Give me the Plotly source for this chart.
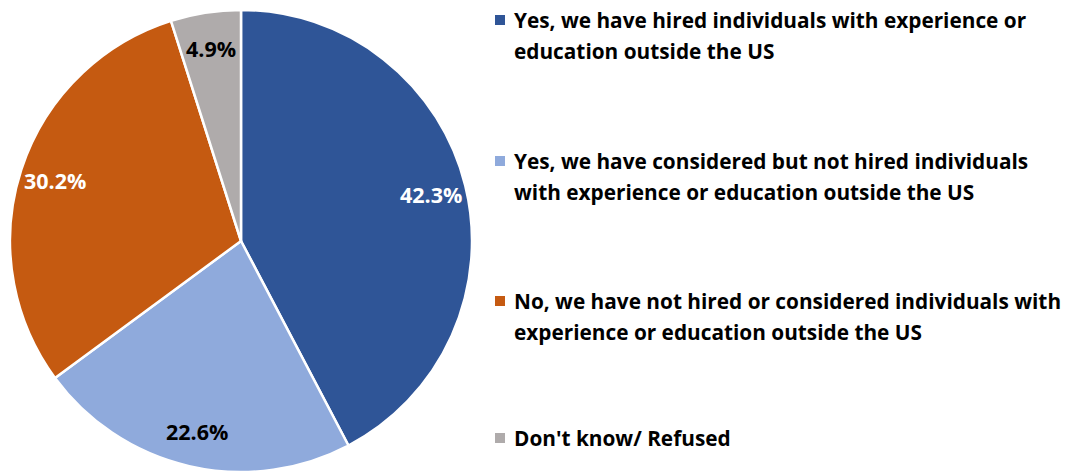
import math
import plotly.graph_objects as go

# Survey responses (share of respondents, %)
categories = [
    "Yes, we have hired individuals with experience or<br>education outside the US",
    "Yes, we have considered but not hired individuals<br>with experience or education outside the US",
    "No, we have not hired or considered individuals with<br>experience or education outside the US",
    "Don't know/ Refused",
]
values = [42.3, 22.6, 30.2, 4.9]
colors = ["#2F5597", "#8FAADC", "#C55A11", "#AFABAB"]
label_colors = ["white", "black", "white", "black"]

W, H = 1067, 472
FONT = "Open Sans"

# pie geometry in pixels
cx, cy, r = 241, 241, 231

fig = go.Figure(
    go.Pie(
        labels=[c.replace("<br>", " ") for c in categories],
        values=values,
        marker=dict(colors=colors, line=dict(color="white", width=2.5)),
        sort=False,
        direction="clockwise",
        rotation=0,
        textinfo="none",
        hoverinfo="label+percent",
        showlegend=False,
        domain=dict(x=[(cx - r) / W, (cx + r) / W], y=[1 - (cy + r) / H, 1 - (cy - r) / H]),
    )
)

annotations = []
shapes = []

# value labels placed along each slice's bisector
total = sum(values)
cum = 0.0
for v, col in zip(values, label_colors):
    mid = (cum + v / 2) / total * 2 * math.pi
    cum += v
    d = 0.845 * r
    px = cx + d * math.sin(mid)
    py = cy - d * math.cos(mid)
    annotations.append(dict(
        x=px / W, y=1 - py / H, xref="paper", yref="paper",
        text=f"<b>{v:.1f}%</b>", showarrow=False,
        font=dict(family=FONT, size=21.5, color=col),
        xanchor="center", yanchor="middle",
    ))

# legend: colored squares with wrapped bold text
legend_y = [20, 161, 301, 438]
line_gap = 31
sq = 10
for cat, colr, ly in zip(categories, colors, legend_y):
    shapes.append(dict(
        type="rect", xref="paper", yref="paper",
        x0=495 / W, x1=(495 + sq) / W,
        y0=1 - (ly - sq / 2) / H, y1=1 - (ly + sq / 2) / H,
        fillcolor=colr, line=dict(width=0),
    ))
    for k, line in enumerate(cat.split("<br>")):
        annotations.append(dict(
            x=512 / W, y=1 - (ly + k * line_gap) / H, xref="paper", yref="paper",
            text=f"<b>{line}</b>", showarrow=False,
            font=dict(family=FONT, size=20.8, color="black"),
            xanchor="left", yanchor="middle",
        ))

fig.update_layout(
    width=W, height=H,
    margin=dict(l=0, r=0, t=0, b=0),
    paper_bgcolor="white",
    plot_bgcolor="white",
    annotations=annotations,
    shapes=shapes,
)

fig.write_html("out.html")
